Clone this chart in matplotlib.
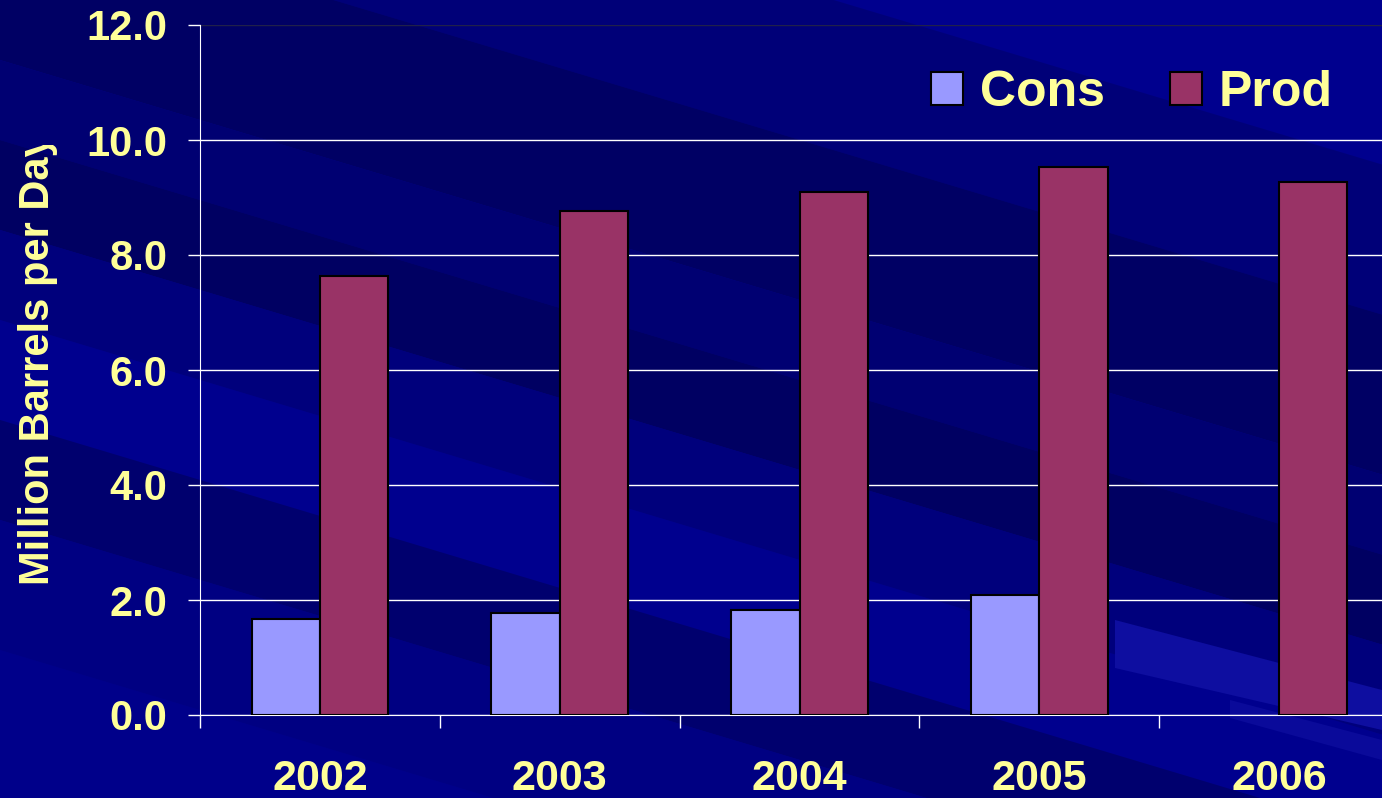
import numpy as np
import matplotlib
matplotlib.use("Agg")
import matplotlib.pyplot as plt
from matplotlib.patches import Patch, Polygon
from matplotlib.ticker import FixedLocator
from matplotlib.transforms import Bbox, TransformedBbox

plt.rcParams['font.family'] = ['Liberation Sans', 'DejaVu Sans']
plt.rcParams['font.weight'] = 'bold'

# production / consumption, million barrels per day
years = ['2002', '2003', '2004', '2005', '2006']
cons = [1.67, 1.77, 1.83, 2.09, np.nan]
prod = [7.63, 8.77, 9.10, 9.53, 9.27]
yticks = [0, 2, 4, 6, 8, 10, 12]

TXT = '#FFFF99'
CONS_C = '#9999FF'
PROD_C = '#993366'

W, H = 1382, 798
fig = plt.figure(figsize=(W / 100, H / 100), dpi=100)

# slide background: navy with diagonal streaks
bg = fig.add_axes([0, 0, 1, 1])
bg.set_xlim(0, W)
bg.set_ylim(H, 0)
bg.axis('off')
bg.add_patch(Polygon([(0, 0), (W, 0), (W, H), (0, H)], closed=True,
                     facecolor='#000088', edgecolor='none'))
slope = 0.3
bands = [
    (-600, -250, '#00008E'),
    (-250, -100, '#000078'),
    (-100, 60, '#000064'),
    (60, 140, '#000072'),
    (140, 230, '#000062'),
    (230, 320, '#00007C'),
    (320, 420, '#00008E'),
    (420, 520, '#00006E'),
    (520, 650, '#000082'),
    (650, 900, '#00008A'),
]
for y0, y1, c in bands:
    pts = [(0, y0), (W, y0 + slope * W), (W, y1 + slope * W), (0, y1)]
    bg.add_patch(Polygon(pts, closed=True, facecolor=c, edgecolor='none'))
for pts, c in [([(1115, 620), (1382, 690), (1382, 730), (1115, 668)], '#0E0EA0'),
               ([(1230, 700), (1382, 740), (1382, 760), (1230, 718)], '#0A0A9A')]:
    bg.add_patch(Polygon(pts, closed=True, facecolor=c, edgecolor='none'))

# plot area (right edge runs past the slide)
ax = fig.add_axes([200 / W, 1 - 715 / H, 1199 / W, 690 / H])
ax.patch.set_alpha(0)

x = np.arange(len(years))
bw = 0.285
ax.bar(x - bw / 2, cons, bw, color=CONS_C, edgecolor='black', linewidth=1.5, zorder=3)
ax.bar(x + bw / 2, prod, bw, color=PROD_C, edgecolor='black', linewidth=1.5, zorder=3)

ax.set_xlim(-0.5, len(years) - 0.5)
ax.set_ylim(0, 12)
ax.set_yticks(yticks)
ax.set_yticklabels([f'{v:.1f}' for v in yticks])
ax.set_xticks(x)
ax.set_xticklabels(years)
ax.xaxis.set_minor_locator(FixedLocator(np.arange(len(years) + 1) - 0.5))

ax.yaxis.grid(True, color='white', linewidth=1)
ax.get_ygridlines()[-1].set_color('#20204A')
ax.set_axisbelow(True)

for s in ['top', 'right']:
    ax.spines[s].set_visible(False)
ax.spines['left'].set_color('white')
ax.spines['bottom'].set_color('white')

ax.tick_params(axis='y', colors='white', labelcolor=TXT, length=8.6, width=1,
               pad=15, labelsize=30)
ax.tick_params(axis='x', which='major', length=0, pad=32, labelcolor=TXT, labelsize=31)
ax.tick_params(axis='x', which='minor', length=9.4, width=1, color='white')

# axis title, cut off by its text box
yl = fig.text(49 / W, 1 - 585 / H, 'Million Barrels per Day', rotation=90,
              rotation_mode='anchor', ha='left', va='baseline',
              color=TXT, fontsize=30, fontweight='bold')
yl.set_clip_box(TransformedBbox(Bbox([[0, 0], [1, 1 - 145 / H]]), fig.transFigure))
yl.set_clip_on(True)

handles = [Patch(facecolor=CONS_C, edgecolor='black', linewidth=1.5, label='Cons'),
           Patch(facecolor=PROD_C, edgecolor='black', linewidth=1.5, label='Prod')]
leg = fig.legend(handles=handles, loc='center left',
                 bbox_to_anchor=(931 / W, 1 - 93 / H), ncol=2, frameon=False,
                 fontsize=36, borderpad=0, borderaxespad=0,
                 handlelength=0.64, handleheight=0.64, handletextpad=0.34,
                 columnspacing=1.3)
for t in leg.get_texts():
    t.set_color(TXT)

fig.savefig('out.png', dpi=100)
